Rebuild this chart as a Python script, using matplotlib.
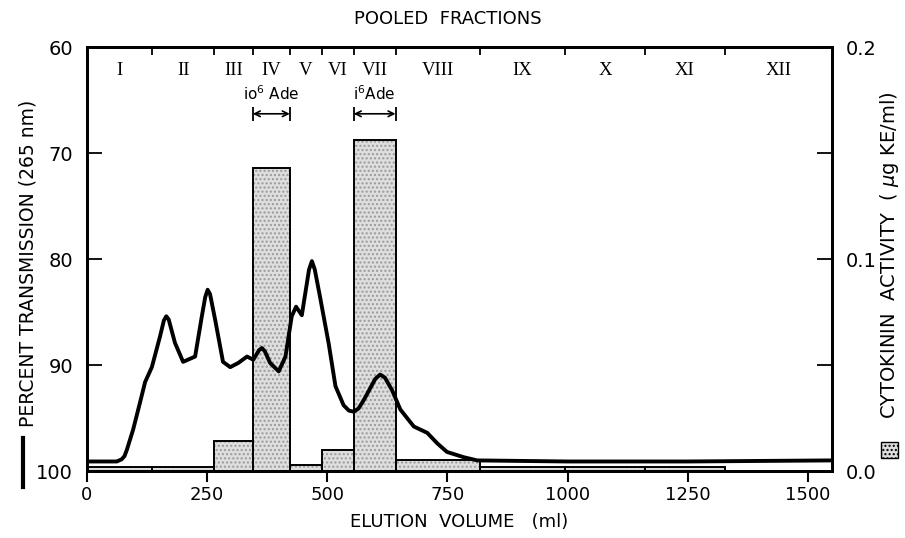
import matplotlib
matplotlib.use("Agg")
import matplotlib.pyplot as plt
from matplotlib.lines import Line2D
from matplotlib.patches import Rectangle

# UV trace (percent transmission at 265 nm) vs elution volume
volume_ml = [0, 62, 72, 78, 83, 96, 110, 121, 135, 152, 160, 165, 170, 183, 200, 225,
             239, 246, 251, 256, 267, 283, 298, 315, 333, 346, 358, 364, 370, 381, 399,
             413, 426, 435, 447, 462, 468, 474, 485, 503, 517, 534, 545, 555, 565, 576,
             600, 610, 620, 635, 652, 680, 708, 729, 749, 784, 812, 1000, 1250, 1548]
transmission = [99.1, 99.1, 98.9, 98.6, 98.0, 96.1, 93.6, 91.6, 90.2, 87.3, 85.8, 85.4,
                85.7, 87.9, 89.7, 89.2, 85.4, 83.6, 82.9, 83.3, 85.8, 89.7, 90.2, 89.8,
                89.2, 89.5, 88.6, 88.4, 88.7, 89.8, 90.6, 89.2, 85.4, 84.5, 85.3, 81.0,
                80.2, 81.0, 83.6, 88.0, 92.0, 93.8, 94.3, 94.4, 94.1, 93.3, 91.3, 90.9,
                91.2, 92.4, 94.2, 95.8, 96.4, 97.4, 98.2, 98.7, 99.0, 99.1, 99.1, 99.0]

# pooled fractions and their cytokinin activity
fraction_edges = [0, 135, 265, 345, 422, 488, 555, 642, 818, 995, 1160, 1327, 1550]
fraction_labels = ["I", "II", "III", "IV", "V", "VI", "VII", "VIII", "IX", "X", "XI", "XII"]
activity = [0.002, 0.002, 0.014, 0.143, 0.003, 0.010, 0.156, 0.005, 0.002, 0.002, 0.002, 0.0]

# marker compounds
markers = ["io$^6$ Ade", "i$^6$Ade"]
marker_ranges = [(345, 422), (555, 642)]

fig = plt.figure(figsize=(9.05, 5.38), dpi=100)
ax = fig.add_axes([0.0961, 0.1245, 0.8232, 0.7881])
ax2 = ax.twinx()

lefts = fraction_edges[:-1]
widths = [b - a for a, b in zip(fraction_edges[:-1], fraction_edges[1:])]
ax2.bar(lefts, activity, width=widths, align="edge", color="#dedede", edgecolor="#9a9a9a",
        hatch="....", linewidth=0, zorder=1)
ax2.bar(lefts, activity, width=widths, align="edge", color="none", edgecolor="black",
        linewidth=1.4, zorder=2)
ax2.set_ylim(0, 0.2)
ax2.set_yticks([0, 0.05, 0.1, 0.15, 0.2])
ax2.set_yticklabels(["0.0", "", "0.1", "", "0.2"])

ax.plot(volume_ml, transmission, color="black", lw=2.8, zorder=5,
        solid_capstyle="round", solid_joinstyle="round")
ax.set_zorder(ax2.get_zorder() + 1)
ax.patch.set_visible(False)
ax.set_ylim(100, 60)
ax.set_yticks([60, 70, 80, 90, 100])
ax.set_xlim(0, 1550)
ax.set_xticks([0, 250, 500, 750, 1000, 1250, 1500])

ax.tick_params(axis="x", direction="out", length=8, width=1.5, labelsize=13, pad=3)
ax.tick_params(axis="y", direction="in", length=11, width=1.3, labelsize=14, pad=10)
ax2.tick_params(axis="y", direction="in", length=11, width=1.3, labelsize=14, pad=10)
for a in (ax, ax2):
    for s in a.spines.values():
        s.set_linewidth(2)

# fraction boundaries along the top
top = ax.secondary_xaxis("top")
top.set_xticks(fraction_edges[1:-1])
top.set_xticklabels([])
top.tick_params(direction="in", length=6, width=1.3)
for i, lab in enumerate(fraction_labels):
    mid = (fraction_edges[i] + fraction_edges[i + 1]) / 2
    ax.text(mid, 0.945, lab, transform=ax.get_xaxis_transform(), ha="center", va="center",
            fontsize=13.5, family="Liberation Serif")

# marker annotations
for name, (x0, x1) in zip(markers, marker_ranges):
    ax.annotate("", xy=(x0, 66.3), xytext=(x1, 66.3),
                arrowprops=dict(arrowstyle="<->", lw=1.2, color="black", shrinkA=0, shrinkB=0))
    ax.plot([x0, x1], [66.3, 66.3], ls="none", marker="|", ms=10, mew=1.3, color="black")
    ax.text((x0 + x1) / 2, 64.4, name, ha="center", va="center", fontsize=11)

fig.text(0.495, 0.965, "POOLED  FRACTIONS", ha="center", va="center", fontsize=13)
ax.set_xlabel("ELUTION  VOLUME   (ml)", fontsize=13, labelpad=6)

fig.text(0.031, 0.51, "PERCENT TRANSMISSION (265 nm)", rotation=90, ha="center",
         va="center", fontsize=13.5)
fig.add_artist(Line2D([0.025, 0.025], [0.095, 0.185], transform=fig.transFigure,
                      color="black", lw=3))
fig.text(0.983, 0.525, "CYTOKININ  ACTIVITY  ( $\\mu$g KE/ml)", rotation=90, ha="center",
         va="center", fontsize=14)
fig.add_artist(Rectangle((0.974, 0.148), 0.018, 0.03, transform=fig.transFigure,
                         facecolor="#dedede", edgecolor="black", hatch="....", lw=1))

fig.savefig("out.png", dpi=100)
